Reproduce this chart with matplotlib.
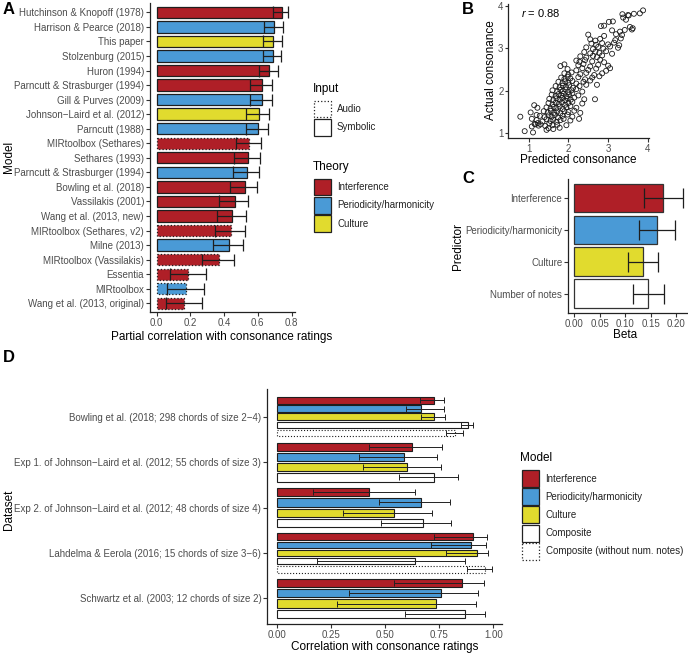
import numpy as np
import matplotlib
matplotlib.use("Agg")
import matplotlib.pyplot as plt
from matplotlib.patches import Rectangle

plt.rcParams['font.family'] = ['Liberation Sans', 'DejaVu Sans']
plt.rcParams['mathtext.fontset'] = 'custom'
plt.rcParams['mathtext.it'] = 'Liberation Sans:italic'
plt.rcParams['mathtext.rm'] = 'Liberation Sans'

W, H = 688, 655
RED = '#AF1F27'
BLUE = '#4A9AD6'
YEL = '#E1DB2E'
TXT = '#4D4D4D'
EDGE = '#1e1e1e'
theory_colors = {'Interference': RED, 'Periodicity/harmonicity': BLUE, 'Culture': YEL,
                 'Composite': '#FFFFFF', 'Composite (without num. notes)': '#FFFFFF'}

# ---------------- Panel A data ----------------
a_models = ["Hutchinson & Knopoff (1978)", "Harrison & Pearce (2018)", "This paper",
            "Stolzenburg (2015)", "Huron (1994)", "Parncutt & Strasburger (1994)",
            "Gill & Purves (2009)", "Johnson\u2212Laird et al. (2012)", "Parncutt (1988)",
            "MIRtoolbox (Sethares)", "Sethares (1993)", "Parncutt & Strasburger (1994)",
            "Bowling et al. (2018)", "Vassilakis (2001)", "Wang et al. (2013, new)",
            "MIRtoolbox (Sethares, v2)", "Milne (2013)", "MIRtoolbox (Vassilakis)",
            "Essentia", "MIRtoolbox", "Wang et al. (2013, original)"]
a_theory = ["Interference", "Periodicity/harmonicity", "Culture", "Periodicity/harmonicity",
            "Interference", "Interference", "Periodicity/harmonicity", "Culture",
            "Periodicity/harmonicity", "Interference", "Interference", "Periodicity/harmonicity",
            "Interference", "Interference", "Interference", "Interference",
            "Periodicity/harmonicity", "Interference", "Interference",
            "Periodicity/harmonicity", "Interference"]
a_input = ["Symbolic"] * 9 + ["Audio"] + ["Symbolic"] * 5 + ["Audio", "Symbolic", "Audio",
                                                               "Audio", "Audio", "Audio"]
a_r = [0.742, 0.698, 0.692, 0.692, 0.665, 0.625, 0.623, 0.604, 0.602, 0.549, 0.541,
       0.537, 0.521, 0.464, 0.446, 0.438, 0.429, 0.368, 0.189, 0.175, 0.163]
a_lo = [0.692, 0.639, 0.633, 0.630, 0.604, 0.555, 0.553, 0.531, 0.527, 0.470, 0.458,
        0.454, 0.435, 0.372, 0.356, 0.346, 0.334, 0.267, 0.079, 0.063, 0.055]
a_hi = [0.781, 0.747, 0.741, 0.740, 0.718, 0.684, 0.684, 0.667, 0.663, 0.621, 0.610,
        0.608, 0.592, 0.541, 0.529, 0.525, 0.513, 0.458, 0.291, 0.279, 0.267]

# ---------------- Panel B data ----------------
b_points = [
    (0.79, 1.39), (0.90, 1.05), (1.11, 1.02), (1.05, 1.49), (1.14, 1.66), (1.22, 1.60),
    (1.08, 1.34), (1.08, 1.16), (1.20, 1.43), (1.17, 1.21), (1.23, 1.24),
    (1.45, 1.08), (1.50, 1.12), (1.62, 1.10), (1.78, 1.13),
    (1.15, 1.22), (1.25, 1.18), (1.30, 1.21), (1.42, 1.17), (1.52, 1.23), (1.60, 1.19),
    (1.72, 1.20), (1.95, 1.19),
    (1.20, 1.31), (1.35, 1.28), (1.45, 1.33), (1.55, 1.29), (1.62, 1.32), (1.70, 1.27),
    (1.80, 1.31), (1.88, 1.34), (2.05, 1.30), (2.27, 1.34),
    (1.28, 1.41), (1.40, 1.38), (1.50, 1.42), (1.58, 1.39), (1.66, 1.43), (1.74, 1.37),
    (1.85, 1.41), (1.98, 1.44), (2.10, 1.39),
    (1.38, 1.52), (1.48, 1.49), (1.56, 1.53), (1.64, 1.48), (1.72, 1.51), (1.80, 1.47),
    (1.90, 1.52), (2.00, 1.50), (2.15, 1.53), (2.30, 1.48),
    (1.45, 1.61), (1.55, 1.58), (1.63, 1.62), (1.70, 1.59), (1.78, 1.63), (1.86, 1.57),
    (1.95, 1.61), (2.05, 1.64), (2.20, 1.60),
    (1.50, 1.71), (1.60, 1.68), (1.68, 1.72), (1.76, 1.69), (1.84, 1.73), (1.92, 1.67),
    (2.00, 1.71), (2.10, 1.74), (2.35, 1.70),
    (1.52, 1.81), (1.62, 1.78), (1.70, 1.82), (1.78, 1.79), (1.85, 1.83), (1.92, 1.77),
    (1.98, 1.82), (2.06, 1.79), (2.15, 1.84), (2.40, 1.80), (2.67, 1.80),
    (1.58, 1.91), (1.68, 1.88), (1.75, 1.92), (1.82, 1.89), (1.88, 1.93), (1.95, 1.87),
    (2.02, 1.91), (2.10, 1.94), (2.25, 1.89),
    (1.60, 2.01), (1.72, 1.98), (1.80, 2.02), (1.86, 1.99), (1.93, 2.03), (2.00, 1.97),
    (2.08, 2.01), (2.20, 2.04), (2.35, 1.98),
    (1.68, 2.11), (1.78, 2.08), (1.86, 2.12), (1.94, 2.09), (2.02, 2.13), (2.12, 2.07),
    (2.28, 2.11), (2.45, 2.14), (2.72, 2.14),
    (1.75, 2.21), (1.85, 2.18), (1.92, 2.22), (2.00, 2.19), (2.10, 2.23), (2.20, 2.17),
    (2.38, 2.21), (2.55, 2.24),
    (1.82, 2.31), (1.90, 2.28), (1.98, 2.33), (2.05, 2.29), (2.25, 2.32), (2.42, 2.27),
    (2.60, 2.31), (2.78, 2.34),
    (1.90, 2.41), (2.00, 2.38), (2.08, 2.43), (2.30, 2.39), (2.45, 2.42), (2.65, 2.37),
    (2.85, 2.41),
    (1.98, 2.51), (2.20, 2.48), (2.35, 2.53), (2.50, 2.49), (2.70, 2.52), (2.95, 2.47),
    (3.05, 2.53),
    (1.80, 2.58), (1.90, 2.62), (2.25, 2.60), (2.38, 2.63), (2.55, 2.57), (2.75, 2.61),
    (3.00, 2.59),
    (2.20, 2.71), (2.28, 2.68), (2.42, 2.72), (2.60, 2.69), (2.80, 2.73), (2.90, 2.67),
    (2.30, 2.81), (2.45, 2.78), (2.62, 2.82), (2.72, 2.79), (2.85, 2.83),
    (2.40, 2.91), (2.55, 2.88), (2.68, 2.92), (2.78, 2.89), (2.95, 2.93), (3.10, 2.87),
    (2.45, 3.02), (2.62, 2.98), (2.75, 3.03), (2.88, 2.99), (3.05, 3.04), (3.25, 3.01),
    (2.58, 3.11), (2.70, 3.08), (2.85, 3.12), (3.00, 3.09), (3.15, 3.13), (3.28, 3.07),
    (2.55, 3.21), (2.68, 3.18), (2.80, 3.22), (3.18, 3.19), (3.32, 3.23),
    (2.50, 3.32), (2.90, 3.29), (3.20, 3.33), (3.35, 3.31),
    (3.10, 3.42), (3.30, 3.39), (3.42, 3.43), (3.60, 3.44),
    (2.82, 3.52), (2.90, 3.53), (3.55, 3.50), (3.62, 3.47),
    (3.02, 3.62), (3.12, 3.63), (3.45, 3.67),
    (3.38, 3.72), (3.50, 3.78),
    (3.36, 3.80), (3.52, 3.77), (3.65, 3.81), (3.80, 3.82), (3.88, 3.89),
]
b_pred = [p[0] for p in b_points]
b_actual = [p[1] for p in b_points]

# ---------------- Panel C data ----------------
c_pred = ["Interference", "Periodicity/harmonicity", "Culture", "Number of notes"]
c_beta = [0.174, 0.162, 0.134, 0.145]
c_lo = [0.137, 0.127, 0.106, 0.115]
c_hi = [0.212, 0.198, 0.164, 0.175]
c_cols = [RED, BLUE, YEL, '#FFFFFF']

# ---------------- Panel D data ----------------
d_datasets = ["Bowling et al. (2018; 298 chords of size 2\u22124)",
              "Exp 1. of Johnson\u2212Laird et al. (2012; 55 chords of size 3)",
              "Exp 2. of Johnson\u2212Laird et al. (2012; 48 chords of size 4)",
              "Lahdelma & Eerola (2016; 15 chords of size 3\u22126)",
              "Schwartz et al. (2003; 12 chords of size 2)"]
d_models = ["Interference", "Periodicity/harmonicity", "Culture", "Composite",
            "Composite (without num. notes)"]
nan = np.nan
d_interference = [0.724, 0.625, 0.427, 0.904, 0.855]
d_interference_lo = [0.661, 0.426, 0.164, 0.725, 0.540]
d_interference_hi = [0.773, 0.765, 0.636, 0.969, 0.958]
d_periodicity = [0.667, 0.589, 0.665, 0.895, 0.760]
d_periodicity_lo = [0.596, 0.378, 0.470, 0.710, 0.330]
d_periodicity_hi = [0.772, 0.741, 0.798, 0.966, 0.929]
d_culture = [0.727, 0.602, 0.542, 0.923, 0.735]
d_culture_lo = [0.664, 0.397, 0.305, 0.780, 0.278]
d_culture_hi = [0.778, 0.759, 0.716, 0.975, 0.920]
d_composite = [0.881, 0.724, 0.673, 0.637, 0.870]
d_composite_lo = [0.852, 0.565, 0.481, 0.185, 0.590]
d_composite_hi = [0.907, 0.835, 0.803, 0.869, 0.963]
d_nonotes = [0.823, nan, nan, 0.960, nan]
d_nonotes_lo = [0.780, nan, nan, 0.877, nan]
d_nonotes_hi = [0.858, nan, nan, 0.992, nan]

# ================= figure =================
fig = plt.figure(figsize=(W / 100, H / 100), dpi=100)


def add_ax(l, t, r, b):
    return fig.add_axes([l / W, 1 - b / H, (r - l) / W, (b - t) / H])


def classic(ax, fs=7):
    for s in ['top', 'right']:
        ax.spines[s].set_visible(False)
    for s in ['left', 'bottom']:
        ax.spines[s].set_linewidth(0.9)
        ax.spines[s].set_color('#222222')
    ax.tick_params(axis='both', length=2.8, width=0.8, color='#333333',
                   labelsize=fs, labelcolor=TXT, pad=1.5)


def ftext(x, y, s, **kw):
    kw.setdefault('ha', 'center')
    kw.setdefault('va', 'center')
    fig.text(x / W, 1 - y / H, s, **kw)


# ---------- Panel A ----------
axA = add_ax(150, 3, 295, 312)
classic(axA)
nA = len(a_models)
yA = np.arange(nA)
for i in range(nA):
    ls = ':' if a_input[i] == 'Audio' else '-'
    axA.barh(yA[i], a_r[i], height=0.78, color=theory_colors[a_theory[i]],
             edgecolor=EDGE, linewidth=0.9, linestyle=ls)
axA.errorbar(a_r, yA, xerr=[np.array(a_r) - np.array(a_lo), np.array(a_hi) - np.array(a_r)],
             fmt='none', ecolor=EDGE, elinewidth=0.9, capsize=4.5, capthick=0.9)
axA.set_ylim(nA - 0.4, -0.64)
axA.set_yticks(yA)
axA.set_yticklabels(a_models)
axA.set_xlim(-0.039, 0.82)
axA.set_xticks([0, 0.2, 0.4, 0.6, 0.8])
axA.set_xticklabels(['0.0', '0.2', '0.4', '0.6', '0.8'])
ftext(222, 337, "Partial correlation with consonance ratings", fontsize=8.5)
ftext(9, 157, "Model", fontsize=8.5, rotation=90)
ftext(9, 10, "A", fontsize=12, fontweight='bold')

# ---------- Panel B ----------
axB = add_ax(508, 4, 649, 137.7)
classic(axB)
axB.tick_params(axis='y', pad=1.0, length=2.2)
axB.scatter(b_pred, b_actual, s=13, facecolors='none', edgecolors='#1a1a1a', linewidths=0.6)
axB.set_xlim(0.48, 4.03)
axB.set_ylim(0.896, 4.04)
axB.set_xticks([1, 2, 3, 4])
axB.set_yticks([1, 2, 3, 4])
axB.text(0.09, 0.93, r'$r$ = 0.88', transform=axB.transAxes, fontsize=8, ha='left', va='center')
ftext(578, 160, "Predicted consonance", fontsize=8.5)
ftext(491, 70, "Actual consonance", fontsize=8.5, rotation=90)
ftext(468, 10, "B", fontsize=12, fontweight='bold')

# ---------- Panel C ----------
axC = add_ax(568.3, 179, 688, 312.7)
classic(axC)
yC = np.arange(len(c_pred))
axC.barh(yC, c_beta, height=0.9, color=c_cols, edgecolor='#333333', linewidth=0.9)
axC.errorbar(c_beta, yC, xerr=[np.array(c_beta) - np.array(c_lo), np.array(c_hi) - np.array(c_beta)],
             fmt='none', ecolor=EDGE, elinewidth=0.9, capsize=7, capthick=0.9)
axC.set_ylim(3.6, -0.6)
axC.set_yticks(yC)
axC.set_yticklabels(c_pred)
axC.set_xlim(-0.011, 0.2226)
axC.set_xticks([0, 0.05, 0.10, 0.15, 0.20])
axC.set_xticklabels(['0.00', '0.05', '0.10', '0.15', '0.20'])
ftext(625, 335, "Beta", fontsize=8.5)
ftext(458, 246, "Predictor", fontsize=8.5, rotation=90)
ftext(468, 179, "C", fontsize=12, fontweight='bold')

# ---------- Panel D ----------
axD = add_ax(267.3, 389, 501.9, 624.3)
classic(axD)
d_vals = [d_interference, d_periodicity, d_culture, d_composite, d_nonotes]
d_los = [d_interference_lo, d_periodicity_lo, d_culture_lo, d_composite_lo, d_nonotes_lo]
d_his = [d_interference_hi, d_periodicity_hi, d_culture_hi, d_composite_hi, d_nonotes_hi]
for g in range(len(d_datasets)):
    present = [m for m in range(len(d_models)) if not np.isnan(d_vals[m][g])]
    k = len(present)
    slot = 0.9 / k
    for j, m in enumerate(present):
        yc = g - 0.45 + slot * (j + 0.5)
        v = d_vals[m][g]
        ls = ':' if m == 4 else '-'
        axD.barh(yc, v, height=slot * 0.8, color=theory_colors[d_models[m]],
                 edgecolor=EDGE, linewidth=0.8, linestyle=ls)
        axD.errorbar([v], [yc], xerr=[[v - d_los[m][g]], [d_his[m][g] - v]], fmt='none',
                     ecolor='#222222', elinewidth=0.7, capsize=2.5, capthick=0.7)
axD.set_ylim(4.57, -0.61)
axD.set_yticks(np.arange(len(d_datasets)))
axD.set_yticklabels(d_datasets)
axD.set_xlim(-0.046, 1.04)
axD.set_xticks([0, 0.25, 0.5, 0.75, 1.0])
axD.set_xticklabels(['0.00', '0.25', '0.50', '0.75', '1.00'])
ftext(385, 647, "Correlation with consonance ratings", fontsize=8.5)
ftext(9, 510, "Dataset", fontsize=8.5, rotation=90)
ftext(9, 357, "D", fontsize=12, fontweight='bold')

# ---------- Legends (pixel overlay) ----------
ov = fig.add_axes([0, 0, 1, 1])
ov.set_xlim(0, W)
ov.set_ylim(H, 0)
ov.axis('off')
ov.patch.set_alpha(0)


def key(x, y, w, h, fc, ls='-'):
    ov.add_patch(Rectangle((x, y), w, h, facecolor=fc, edgecolor='#222222', linewidth=0.9,
                           linestyle=ls))


ov.text(313, 89, "Input", fontsize=8.5, ha='left', va='center')
key(313.5, 100.5, 17.5, 16.5, '#FFFFFF', ':')
ov.text(337, 109, "Audio", fontsize=7, ha='left', va='center', color='#222222')
key(313.5, 119, 17.5, 17, '#FFFFFF')
ov.text(337, 127.5, "Symbolic", fontsize=7, ha='left', va='center', color='#222222')
ov.text(313, 167, "Theory", fontsize=8.5, ha='left', va='center')
for i, (lab, c) in enumerate([("Interference", RED), ("Periodicity/harmonicity", BLUE),
                              ("Culture", YEL)]):
    y0 = 178.5 + i * 18.4
    key(313.5, y0, 17.5, 16.8, c)
    ov.text(337, y0 + 8.4, lab, fontsize=7, ha='left', va='center', color='#222222')

ov.text(520, 458, "Model", fontsize=8.5, ha='left', va='center')
for i, lab in enumerate(d_models):
    y0 = 470 + i * 18.2
    ls = ':' if i == 4 else '-'
    key(521.5, y0, 17.5, 17, theory_colors[lab], ls)
    ov.text(545.5, y0 + 8.5, lab, fontsize=7, ha='left', va='center', color='#222222')

fig.savefig("out.png", dpi=100)
